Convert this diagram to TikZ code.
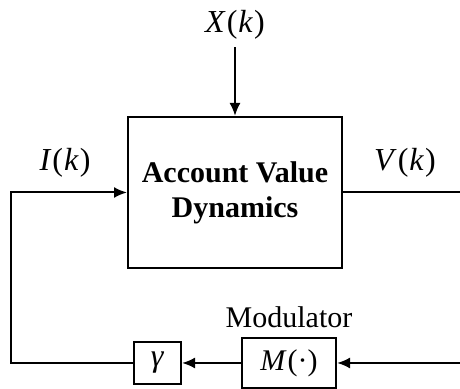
\documentclass[tikz,border=0pt]{standalone}
\usepackage{fontspec}
\setmainfont{Liberation Serif}
\usetikzlibrary{positioning,arrows.meta}
\tikzset{
	block/.style={draw,line width=1pt,inner sep=0pt,align=center},
	sig/.style={font=\fontsize{16}{19}\selectfont}
}
\begin{document}
\begin{tikzpicture}[x=0.5pt,y=0.5pt,>={Latex[length=6.5pt,width=5.5pt]},line width=1pt,line join=miter,font=\fontsize{15}{17.5}\selectfont]
			\useasboundingbox (0,0) rectangle (460,389);
			% main block
			\node [block,minimum width=107pt,minimum height=75.5pt,font=\fontsize{15}{17.5}\selectfont\bfseries] (avd) at (235,196.5) {Account Value\\Dynamics};
			\node [sig] (xk) at (235,364) {\textit{X}\kern0.5pt(\kern0.5pt\textit{k}\kern0.5pt)};
			\node [sig] (ik) at (65,226) {\textit{I}\kern0.5pt(\kern0.5pt\textit{k}\kern0.5pt)};
			\node [sig] (vk) at (405,226) {\textit{V}\kern0.5pt(\kern0.5pt\textit{k}\kern0.5pt)};
			% feedback path
			\node [block,minimum width=47pt,minimum height=25pt] (mod) at (289,26) {\textit{M}\kern0.5pt(·)};
			\node [block,minimum width=23.5pt,minimum height=21pt,font=\fontsize{16}{19}\selectfont] (gam) at (157.5,26) {\textit{γ}};
			\node [above=1pt of mod] (modlab) {Modulator};
			\coordinate (vout) at (460,196.5);
			\coordinate (min) at (460,26);
			\coordinate (lc) at (11,26);
			\draw [->] (xk) -- (avd);
			\draw (avd.east) -- (vout);
			\draw [->] (min) -- (mod);
			\draw [->] (mod) -- (gam);
			\draw [->] (gam.west) -- (lc) |- (avd.west);
		\end{tikzpicture}
\end{document}
